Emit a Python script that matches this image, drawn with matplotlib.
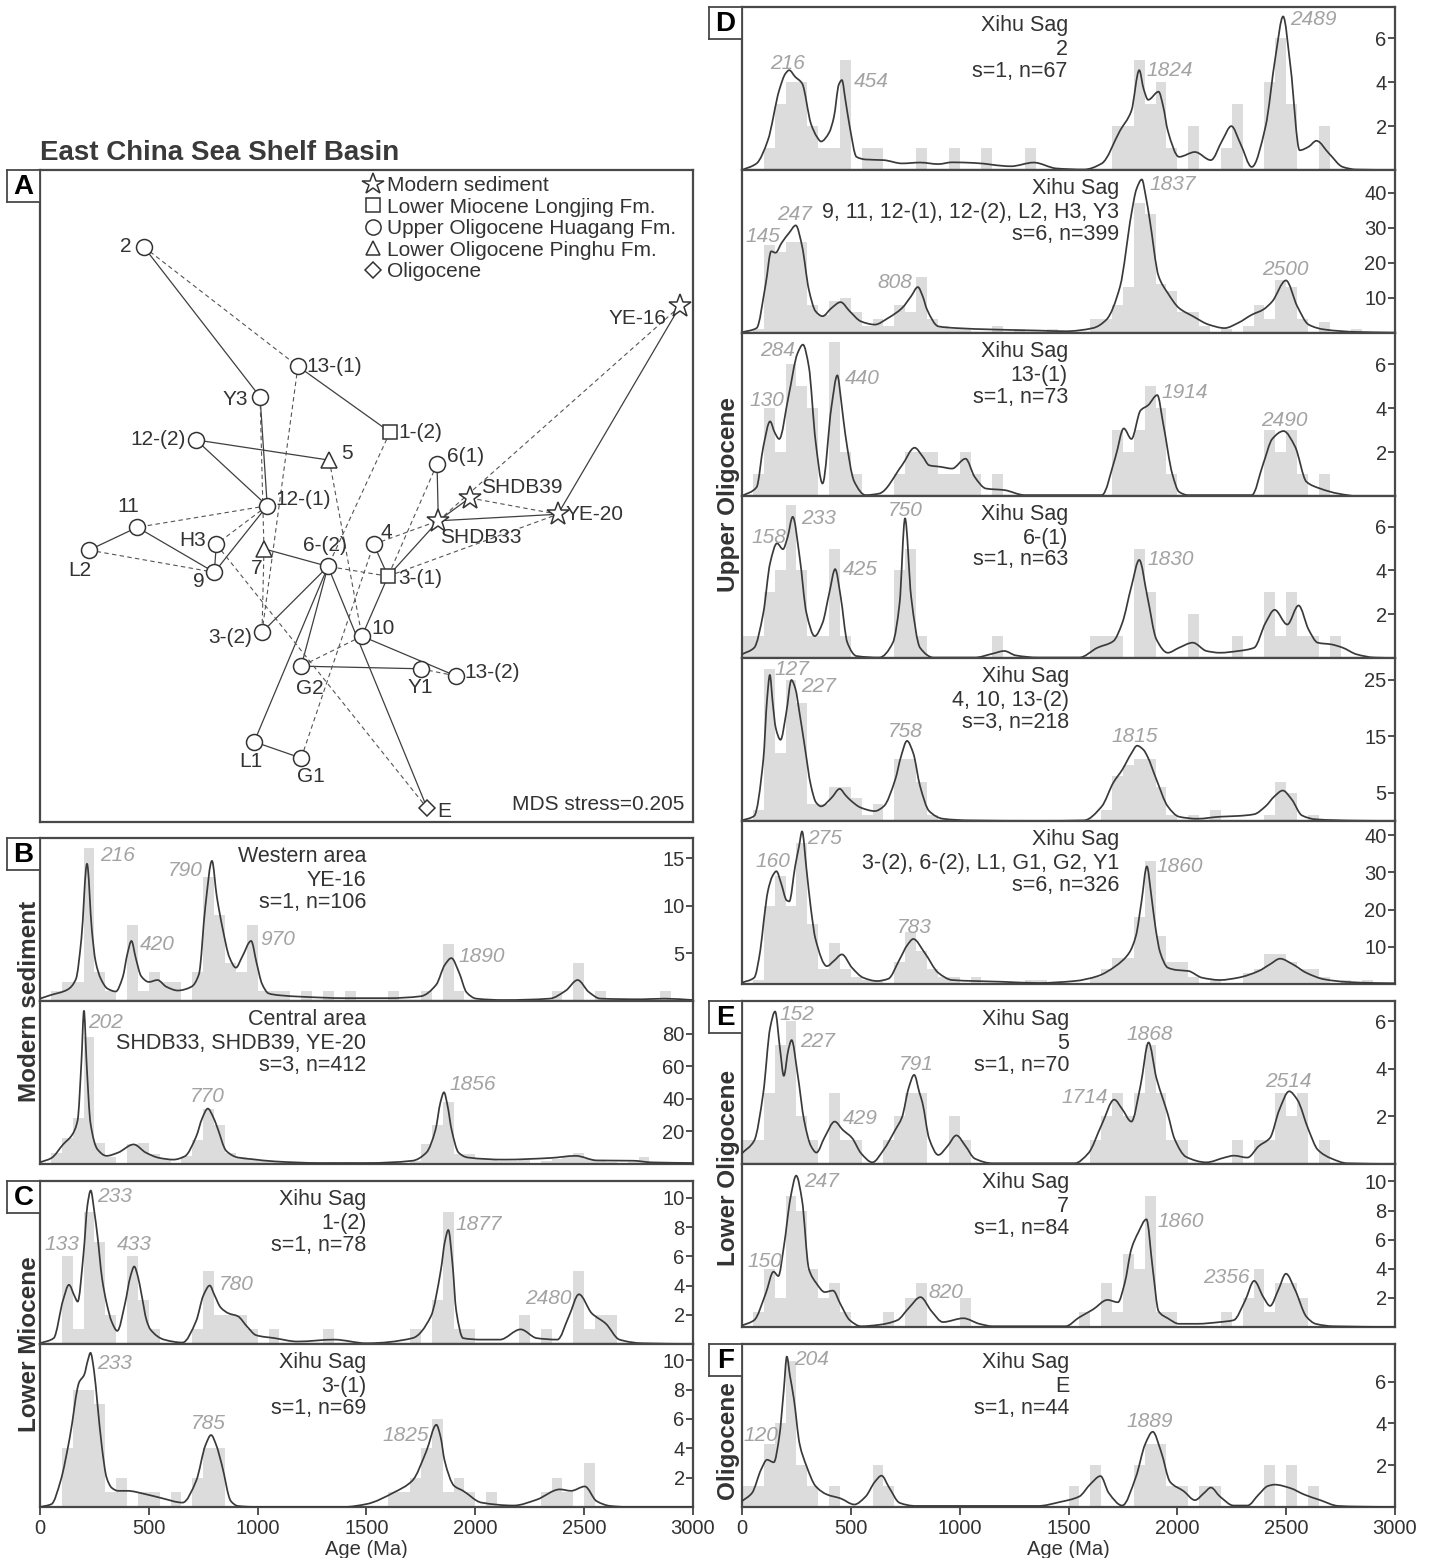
import numpy as np
import matplotlib
matplotlib.use('Agg')
import matplotlib.pyplot as plt
from matplotlib.path import Path
from matplotlib.patches import PathPatch
from matplotlib.lines import Line2D
from matplotlib.transforms import blended_transform_factory

plt.rcParams['font.family'] = ['Liberation Sans', 'DejaVu Sans']

# ---------------- Panel A : MDS map ----------------
mds_names = ["2", "13-(1)", "Y3", "1-(2)", "12-(2)", "5", "6(1)", "SHDB39", "12-(1)", "11",
             "SHDB33", "YE-20", "YE-16", "L2", "H3", "7", "4", "6-(2)", "9", "3-(1)",
             "3-(2)", "10", "G2", "Y1", "13-(2)", "L1", "G1", "E"]
mds_dim1 = [0.159, 0.395, 0.337, 0.536, 0.239, 0.443, 0.608, 0.658, 0.348, 0.149,
            0.610, 0.793, 0.980, 0.075, 0.270, 0.343, 0.511, 0.441, 0.267, 0.533,
            0.340, 0.493, 0.400, 0.583, 0.637, 0.328, 0.400, 0.593]
mds_dim2 = [0.882, 0.699, 0.652, 0.598, 0.586, 0.555, 0.549, 0.497, 0.485, 0.452,
            0.462, 0.472, 0.791, 0.417, 0.426, 0.419, 0.426, 0.392, 0.383, 0.377,
            0.291, 0.285, 0.239, 0.235, 0.224, 0.123, 0.098, 0.021]
mds_group = ["U", "U", "U", "M", "U", "L", "U", "S", "U", "U",
             "S", "S", "S", "U", "U", "L", "U", "U", "U", "M",
             "U", "U", "U", "U", "U", "U", "U", "O"]
solid_links = [("2", "Y3"), ("13-(1)", "1-(2)"), ("Y3", "12-(1)"), ("12-(2)", "5"),
               ("12-(2)", "12-(1)"), ("12-(1)", "9"), ("11", "L2"), ("11", "9"), ("H3", "9"),
               ("7", "6-(2)"), ("6-(2)", "3-(2)"), ("6-(2)", "G2"), ("6-(2)", "L1"),
               ("6-(2)", "E"), ("4", "3-(1)"), ("3-(1)", "SHDB33"), ("3-(1)", "10"),
               ("6(1)", "SHDB33"), ("SHDB33", "YE-20"), ("SHDB39", "SHDB33"),
               ("YE-16", "YE-20"), ("10", "13-(2)"), ("G2", "Y1"), ("L1", "G1")]
dashed_links = [("2", "13-(1)"), ("13-(1)", "3-(2)"), ("Y3", "7"), ("12-(1)", "11"),
                ("12-(1)", "H3"), ("L2", "9"), ("H3", "E"), ("5", "10"), ("1-(2)", "6-(2)"),
                ("4", "SHDB33"), ("3-(1)", "6-(2)"), ("3-(1)", "YE-20"), ("SHDB39", "YE-20"),
                ("YE-16", "SHDB33"), ("10", "G2"), ("Y1", "13-(2)"), ("G1", "4"),
                ("7", "3-(2)"), ("6(1)", "3-(1)")]
legend_labels = ["Modern sediment", "Lower Miocene Longjing Fm.", "Upper Oligocene Huagang Fm.",
                 "Lower Oligocene Pinghu Fm.", "Oligocene"]
mds_stress = 0.205

# ---------------- Panel B : modern sediment ----------------
b1_bins = [50, 100, 150, 200, 250, 300, 400, 450, 500, 550, 600, 700, 750, 800, 850, 900, 950,
           1000, 1050, 1100, 1200, 1300, 1400, 1600, 1750, 1850, 1900, 2350, 2450, 2550, 2850]
b1_counts = [1, 2, 2, 16, 3, 1, 8, 1, 3, 2, 2, 3, 13, 9, 4, 3, 8,
             1, 1, 1, 1, 1, 1, 1, 1, 6, 1, 1, 4, 1, 1]
b1_kde_age = [0, 46, 127, 165, 190, 216, 238, 255, 280, 310, 348, 380, 402, 420, 440, 465, 500,
              540, 580, 633, 696, 730, 760, 790, 812, 840, 870, 900, 928, 970, 995, 1020, 1050,
              1100, 1200, 1400, 1600, 1750, 1820, 1860, 1890, 1925, 1960, 2004, 2131, 2342,
              2416, 2470, 2521, 2574, 2764, 2869, 3000]
b1_kde_val = [0.25, 0.6, 1.2, 2.3, 6.5, 14.4, 7.5, 4.2, 2.3, 1.3, 1.0, 2.5, 5.0, 6.3, 4.5, 2.6, 2.0,
              2.2, 1.5, 1.1, 1.5, 2.8, 10.0, 14.7, 11.0, 7.5, 4.6, 3.5, 4.6, 6.3, 4.0, 1.8, 0.8,
              0.6, 0.45, 0.3, 0.3, 0.5, 1.7, 3.8, 4.5, 3.0, 0.9, 0.25, 0.1, 0.25,
              1.1, 2.2, 0.95, 0.25, 0.18, 0.25, 0.1]
b1_peaks = ["216", "420", "790", "970", "1890"]
b1_peak_x = [275, 460, 587, 1014, 1923]
b1_peak_y = [15.3, 5.9, 13.7, 6.5, 4.7]
b1_text = ["Western area", "YE-16", "s=1, n=106"]

b2_bins = [50, 100, 150, 200, 250, 300, 400, 450, 500, 550, 650, 700, 750, 800, 850, 900, 950,
           1000, 1050, 1100, 1200, 1300, 1400, 1500, 1700, 1750, 1800, 1850, 1900, 1950, 2000,
           2050, 2100, 2150, 2200, 2300, 2350, 2400, 2450, 2500, 2550, 2600, 2700, 2750]
b2_counts = [7, 16, 28, 78, 13, 4, 12, 13, 6, 3, 5, 15, 34, 24, 7, 4, 3,
             2, 2, 1, 1, 1, 1, 1, 2, 12, 24, 38, 6, 6, 3,
             3, 2, 2, 3, 2, 3, 4, 7, 3, 2, 1, 1, 4]
b2_kde_age = [0, 53, 106, 148, 173, 190, 202, 214, 232, 264, 306, 359, 430, 486, 549, 613, 665,
              718, 745, 771, 795, 813, 856, 909, 972, 1078, 1289, 1500, 1711, 1775, 1817, 1840,
              1856, 1872, 1891, 1923, 1965, 2134, 2345, 2461, 2557, 2725, 2810, 3000]
b2_kde_val = [1, 3.7, 12, 18, 27, 62, 94, 62, 25, 9, 5, 7, 12, 7, 3.7, 2.7, 4.7,
              17, 28, 34, 29, 23, 8, 4, 3, 1.6, 0.6, 0.6, 2, 7, 21, 38,
              44, 36, 21, 7, 4, 2.7, 3.7, 5, 2.2, 2, 1, 0.6]
b2_peaks = ["202", "770", "1856"]
b2_peak_x = [222, 687, 1880]
b2_peak_y = [87, 41.5, 49]
b2_text = ["Central area", "SHDB33, SHDB39, YE-20", "s=3, n=412"]

# ---------------- Panel C : Lower Miocene ----------------
c1_bins = [100, 150, 200, 250, 300, 400, 450, 500, 700, 750, 800, 850, 900, 950, 1050, 1300,
           1700, 1800, 1850, 1900, 1950, 2200, 2300, 2450, 2500, 2550, 2600]
c1_counts = [6, 1, 9, 7, 2, 6, 3, 1, 1, 5, 2, 2, 2, 1, 1, 1,
             1, 3, 9, 1, 1, 2, 1, 5, 1, 2, 2]
c1_kde_age = [0, 63, 106, 133, 158, 173, 200, 218, 233, 250, 264, 285, 306, 330, 355, 391, 415,
              433, 450, 465, 490, 507, 570, 655, 718, 750, 780, 800, 830, 866, 909, 951, 993,
              1078, 1183, 1352, 1500, 1711, 1796, 1842, 1860, 1876, 1895, 1912, 1944, 2028,
              2113, 2208, 2282, 2377, 2430, 2476, 2535, 2599, 2662, 2768, 3000]
c1_kde_val = [0.05, 0.4, 3.0, 4.05, 3.3, 2.9, 6.2, 9.5, 10.5, 9.0, 7.4, 4.5, 2.8, 1.5, 0.9, 2.8, 4.6,
              5.3, 4.6, 3.5, 1.6, 1.0, 0.3, 0.1, 1.6, 3.3, 4.0, 3.4, 2.5, 2.1, 1.9, 1.2, 0.6,
              0.4, 0.17, 0.3, 0.05, 0.4, 1.9, 5.1, 7.0, 7.8, 5.5, 2.3, 0.4, 0.3,
              0.3, 1.0, 0.4, 0.3, 1.9, 3.4, 2.1, 1.4, 0.3, 0.05, 0.0]
c1_peaks = ["233", "133", "433", "780", "1877", "2480"]
c1_peak_x = [264, 21, 355, 820, 1908, 2229]
c1_peak_y = [10.1, 6.8, 6.8, 4.06, 8.2, 3.1]
c1_text = ["Xihu Sag", "1-(2)", "s=1, n=78"]

c2_bins = [100, 150, 200, 250, 300, 350, 450, 500, 600, 700, 750, 800, 1600, 1650, 1700, 1750,
           1800, 1850, 1900, 1950, 2050, 2300, 2350, 2400, 2500]
c2_counts = [4, 8, 8, 7, 1, 2, 1, 1, 1, 2, 4, 4, 1, 1, 2, 4,
             6, 1, 2, 1, 1, 1, 2, 1, 3]
c2_kde_age = [0, 53, 95, 137, 180, 203, 220, 232, 248, 264, 285, 306, 330, 359, 401, 486, 560,
              655, 718, 760, 786, 810, 835, 877, 909, 1000, 1394, 1500, 1627, 1711, 1775, 1821,
              1840, 1859, 1902, 1944, 2028, 2176, 2282, 2388, 2440, 2503, 2557, 2620, 2700, 3000]
c2_kde_val = [0.0, 0.2, 1.8, 4.75, 8.5, 9.0, 10.0, 10.5, 9.3, 7.0, 4.0, 2.0, 1.3, 1.1, 1.1, 0.87, 0.6,
              0.3, 1.8, 4.2, 4.9, 4.2, 2.9, 0.4, 0.07, 0.0, 0.0, 0.2, 1.0, 1.8, 3.8, 5.6,
              4.8, 3.15, 1.45, 1.1, 0.3, 0.1, 0.5, 1.2, 1.1, 1.4, 0.4, 0.07, 0.0, 0.0]
c2_peaks = ["233", "785", "1825"]
c2_peak_x = [264, 693, 1574]
c2_peak_y = [9.8, 5.7, 4.9]
c2_text = ["Xihu Sag", "3-(1)", "s=1, n=69"]

# ---------------- Panel D : Upper Oligocene ----------------
d1_bins = [100, 150, 200, 250, 300, 350, 400, 450, 550, 600, 800, 950, 1100, 1300, 1700, 1750,
           1800, 1850, 1900, 1950, 2050, 2200, 2250, 2400, 2450, 2500, 2650]
d1_counts = [1, 3, 4, 4, 2, 1, 1, 5, 1, 1, 1, 1, 1, 1, 2, 2,
             5, 3, 4, 1, 2, 1, 3, 4, 6, 3, 2]
d1_kde_age = [0, 67, 119, 171, 200, 217, 244, 276, 317, 345, 363, 400, 422, 445, 459, 475, 495,
              526, 568, 651, 735, 818, 902, 965, 1069, 1236, 1340, 1445, 1570, 1653, 1737, 1789,
              1825, 1845, 1866, 1914, 1935, 1956, 2008, 2081, 2154, 2207, 2248, 2290, 2342,
              2405, 2451, 2486, 2520, 2562, 2603, 2639, 2697, 2760, 2823, 3000]
d1_kde_val = [0.0, 0.3, 1.36, 3.64, 4.4, 4.55, 4.25, 3.95, 2.1, 1.5, 1.3, 1.7, 2.4, 3.9, 4.1, 3.2, 1.97,
              0.6, 0.48, 0.45, 0.3, 0.34, 0.27, 0.35, 0.32, 0.17, 0.34, 0.07, 0.02, 0.3, 1.8, 2.7,
              4.55, 3.7, 3.2, 3.57, 2.9, 1.8, 0.6, 0.82, 0.45, 1.36, 2.0, 1.2, 0.14,
              1.97, 5.17, 7.0, 4.7, 0.9, 1.06, 1.33, 0.75, 0.14, 0.02, 0.0]
d1_peaks = ["216", "454", "1824", "2489"]
d1_peak_x = [129, 516, 1858, 2516]
d1_peak_y = [4.86, 4.05, 4.55, 6.84]
d1_text = ["Xihu Sag", "2", "s=1, n=67"]

d2_bins = [50, 100, 150, 200, 250, 300, 350, 400, 450, 500, 550, 600, 650, 700, 750, 800, 850,
           900, 950, 1000, 1150, 1250, 1400, 1600, 1650, 1700, 1750, 1800, 1850, 1900, 1950,
           2000, 2050, 2100, 2200, 2300, 2350, 2400, 2450, 2500, 2550, 2650, 2800]
d2_counts = [1, 25, 23, 26, 26, 8, 5, 9, 10, 6, 2, 4, 2, 8, 6, 16, 4,
             2, 1, 1, 2, 1, 1, 4, 4, 8, 13, 37, 34, 14, 12,
             6, 6, 2, 1, 2, 8, 4, 15, 13, 4, 3, 1]
d2_kde_age = [0, 67, 109, 134, 154, 182, 217, 247, 276, 307, 338, 370, 411, 453, 495, 547, 610,
              672, 735, 777, 808, 830, 850, 902, 985, 1152, 1361, 1486, 1612, 1674, 1737, 1789,
              1812, 1837, 1855, 1873, 1914, 1956, 2008, 2071, 2144, 2217, 2280, 2342, 2395, 2436,
              2499, 2551, 2603, 2676, 2823, 3000]
d2_kde_val = [0.2, 1.4, 14, 23.3, 22.9, 25.7, 28.6, 30.7, 24.8, 12.4, 6.2, 4.8, 7.1, 8.8, 6.2, 3.3, 2.4,
              4.3, 7.1, 10.5, 13.1, 10.5, 6.7, 1.9, 1.4, 1.0, 0.7, 0.5, 1.4, 3.8, 13.3, 34,
              41, 43.8, 39, 32.4, 16.2, 11.4, 7.1, 4.8, 2.4, 1.4, 2.9, 5.2, 6.7, 9.0,
              15, 7.6, 2.4, 1.0, 0.3, 0.1]
d2_peaks = ["145", "247", "808", "1837", "2500"]
d2_peak_x = [15, 161, 620, 1873, 2388]
d2_peak_y = [27.6, 33.8, 14.3, 42.4, 18.1]
d2_text = ["Xihu Sag", "9, 11, 12-(1), 12-(2), L2, H3, Y3", "s=6, n=399"]

d3_bins = [50, 100, 150, 200, 250, 300, 400, 450, 500, 700, 750, 800, 850, 900, 950, 1000, 1050,
           1150, 1700, 1750, 1800, 1850, 1900, 1950, 2400, 2450, 2500, 2550, 2650]
d3_counts = [1, 4, 2, 6, 5, 4, 7, 2, 1, 1, 2, 2, 2, 1, 1, 2, 1,
             1, 3, 2, 3, 5, 4, 1, 3, 2, 3, 1, 1]
d3_kde_age = [0, 67, 98, 129, 150, 171, 213, 255, 280, 307, 338, 370, 411, 438, 456, 474, 516,
              568, 630, 735, 793, 830, 860, 912, 965, 1027, 1069, 1121, 1205, 1299, 1653, 1716,
              1754, 1789, 1831, 1866, 1908, 1935, 1977, 2008, 2050, 2342, 2395, 2436, 2488,
              2541, 2593, 2656, 2739, 2823, 3000]
d3_kde_val = [0.0, 0.4, 2.25, 3.4, 2.9, 2.6, 4.5, 6.5, 6.9, 5.9, 2.5, 0.57, 4.07, 5.5, 4.3, 2.85, 0.65,
              0.04, 0.11, 1.4, 2.2, 1.8, 1.4, 1.33, 1.25, 1.7, 0.87, 0.34, 0.27, 0.04, 0.04, 1.79,
              3.08, 2.6, 3.9, 4.14, 4.6, 3.3, 1.0, 0.19, 0.04, 0.04, 1.48, 2.6, 2.96,
              2.25, 0.65, 0.34, 0.11, 0.0, 0.0]
d3_peaks = ["130", "284", "440", "1914", "2490"]
d3_peak_x = [35, 84, 474, 1929, 2384]
d3_peak_y = [4.37, 6.65, 5.36, 4.7, 3.46]
d3_text = ["Xihu Sag", "13-(1)", "s=1, n=73"]

d4_bins = [0, 50, 100, 150, 200, 250, 300, 350, 400, 450, 700, 750, 800, 1150, 1600, 1650, 1700,
           1800, 1850, 2050, 2250, 2400, 2450, 2500, 2550, 2600, 2700]
d4_counts = [1, 1, 3, 4, 7, 4, 1, 1, 5, 1, 4, 5, 1, 1, 1, 1, 1,
             5, 3, 2, 1, 3, 1, 3, 1, 1, 1]
d4_kde_age = [0, 56, 98, 129, 161, 188, 209, 233, 265, 296, 334, 370, 401, 428, 453, 484, 526,
              630, 693, 724, 749, 777, 818, 881, 1069, 1152, 1205, 1257, 1361, 1549, 1633, 1706,
              1747, 1789, 1825, 1862, 1904, 1956, 2008, 2071, 2134, 2196, 2280, 2353, 2405,
              2447, 2505, 2557, 2603, 2645, 2708, 2760, 2823, 2906, 3000]
d4_kde_val = [0.17, 0.47, 2.06, 4.33, 5.24, 4.97, 5.5, 6.45, 4.6, 2.06, 1.0, 1.6, 2.97, 4.06, 2.82, 0.7,
              0.09, 0.02, 0.7, 2.5, 6.38, 2.8, 0.47, 0.02, 0.02, 0.2, 0.32, 0.12, 0.02, 0.02, 0.47,
              0.77, 1.6, 3.27, 4.48, 2.82, 0.85, 0.24, 0.47, 0.7, 0.32, 0.24, 0.32, 0.47, 1.6,
              2.2, 1.53, 2.4, 1.3, 0.7, 0.62, 0.47, 0.17, 0.02, 0.0]
d4_peaks = ["158", "233", "425", "750", "1830"]
d4_peak_x = [42, 271, 463, 672, 1862]
d4_peak_y = [5.5, 6.38, 4.03, 6.76, 4.5]
d4_text = ["Xihu Sag", "6-(1)", "s=1, n=63"]

d5_bins = [50, 100, 150, 200, 250, 300, 350, 400, 450, 500, 550, 600, 700, 750, 800, 850, 1650,
           1700, 1750, 1800, 1850, 1900, 1950, 2050, 2150, 2400, 2450, 2500, 2600]
d5_counts = [2, 27, 12, 25, 21, 3, 3, 6, 6, 4, 1, 3, 11, 11, 7, 1, 2,
             8, 10, 11, 11, 6, 1, 1, 2, 1, 7, 5, 1]
d5_kde_age = [0, 56, 98, 115, 128, 141, 155, 177, 203, 227, 245, 265, 286, 317, 340, 363, 411,
              449, 475, 495, 547, 610, 651, 704, 731, 758, 787, 818, 860, 923, 1048, 1361, 1570,
              1653, 1706, 1747, 1789, 1815, 1845, 1862, 1904, 1956, 2008, 2092, 2196, 2280,
              2353, 2405, 2447, 2484, 2526, 2572, 2635, 2823, 3000]
d5_kde_val = [0.1, 0.9, 10.9, 21.5, 25.9, 21.0, 16.5, 14.4, 19.1, 25.0, 23.5, 19.0, 13.8, 6.2, 3.3, 2.6,
              4.1, 5.7, 4.6, 3.8, 2.35, 1.76, 2.6, 7.35, 11.5, 14.2, 12.0, 6.2, 1.76, 0.4, 0.1,
              0.02, 0.1, 2.6, 6.8, 9.1, 12.0, 13.35, 12.6, 11.5, 7.35, 2.6, 0.76, 0.4, 0.76,
              0.9, 1.2, 2.6, 4.4, 5.4, 3.8, 1.0, 0.3, 0.06, 0.0]
d5_peaks = ["127", "227", "758", "1815"]
d5_peak_x = [150, 271, 672, 1699]
d5_peak_y = [26.8, 23.8, 15.9, 14.9]
d5_text = ["Xihu Sag", "4, 10, 13-(2)", "s=3, n=218"]

d6_bins = [50, 100, 150, 200, 250, 300, 350, 400, 450, 500, 550, 600, 700, 750, 800, 850, 900,
           950, 1050, 1300, 1350, 1600, 1650, 1700, 1750, 1800, 1850, 1900, 1950, 2000, 2050,
           2150, 2300, 2350, 2400, 2450, 2500, 2550, 2600, 2650, 2750, 2850]
d6_counts = [1, 21, 29, 21, 38, 16, 4, 11, 4, 2, 1, 1, 6, 14, 9, 4, 2,
             2, 2, 1, 1, 2, 4, 7, 7, 18, 33, 13, 6, 6, 2,
             1, 3, 4, 8, 8, 6, 4, 4, 2, 1, 1]
d6_kde_age = [0, 56, 84, 100, 119, 140, 158, 180, 205, 217, 244, 262, 276, 296, 317, 338, 390,
              422, 459, 505, 557, 620, 672, 724, 760, 787, 839, 902, 965, 1069, 1194, 1361, 1528,
              1633, 1716, 1779, 1810, 1835, 1860, 1880, 1900, 1921, 1956, 1998, 2050, 2113,
              2196, 2280, 2374, 2426, 2472, 2530, 2593, 2676, 2781, 2906, 3000]
d6_kde_val = [0.36, 1.7, 9.0, 17.0, 25.0, 29.0, 30.3, 27.0, 22.5, 22.2, 31.6, 37.0, 41.0, 31.0, 20.0,
              12.0, 4.8, 6.2, 7.95, 4.4, 1.7, 0.8, 1.4, 6.6, 10.5, 12.1, 8.4, 3.0, 1.07, 0.8, 0.6,
              0.27, 0.8, 2.1, 4.8, 8.4, 13.0, 22.0, 31.6, 24.0, 15.0, 8.5, 4.4, 3.75, 3.5, 1.7,
              1.07, 1.7, 3.5, 5.3, 6.8, 5.3, 3.0, 1.25, 0.54, 0.27, 0.2]
d6_peaks = ["160", "275", "783", "1860"]
d6_peak_x = [63, 301, 710, 1904]
d6_peak_y = [33, 39.2, 15.1, 31.6]
d6_text = ["Xihu Sag", "3-(2), 6-(2), L1, G1, G2, Y1", "s=6, n=326"]

# ---------------- Panel E : Lower Oligocene ----------------
e1_bins = [0, 50, 100, 150, 200, 250, 300, 400, 450, 500, 650, 700, 750, 800, 950, 1000, 1600,
           1650, 1700, 1750, 1800, 1850, 1900, 1950, 2000, 2250, 2350, 2400, 2450, 2500, 2550,
           2650]
e1_counts = [1, 1, 3, 5, 6, 2, 1, 3, 1, 1, 1, 2, 3, 3, 2, 1, 1,
             2, 3, 2, 3, 5, 3, 1, 1, 1, 1, 1, 3, 2, 3,
             1]
e1_kde_age = [0, 56, 98, 129, 152, 175, 192, 213, 228, 255, 286, 317, 342, 380, 426, 463, 505,
              547, 599, 651, 704, 735, 766, 791, 815, 829, 860, 902, 944, 985, 1027, 1069, 1152,
              1528, 1591, 1653, 1710, 1747, 1789, 1831, 1868, 1904, 1935, 1956, 1987, 2040,
              2134, 2217, 2259, 2322, 2374, 2426, 2468, 2514, 2551, 2603, 2645, 2708, 2781, 3000]
e1_kde_val = [0.45, 0.98, 3.0, 5.7, 6.4, 4.8, 3.7, 4.8, 5.2, 3.8, 1.8, 0.75, 0.48, 1.13, 1.78, 1.43, 1.1,
              0.45, 0.07, 0.6, 1.43, 1.96, 3.2, 3.74, 3.0, 2.57, 1.06, 0.38, 0.75, 1.2, 0.75, 0.23,
              0.03, 0.03, 0.45, 1.66, 2.7, 2.3, 1.78, 3.3, 5.1, 3.6, 2.7, 2.1, 1.06, 0.3,
              0.07, 0.27, 0.35, 0.27, 0.75, 1.1, 2.26, 3.05, 2.7, 1.43, 0.6, 0.23, 0.03, 0.0]
e1_peaks = ["152", "227", "429", "791", "1714", "1868", "2514"]
e1_peak_x = [171, 265, 463, 720, 1466, 1764, 2405]
e1_peak_y = [6.26, 5.13, 1.89, 4.18, 2.79, 5.43, 3.47]
e1_text = ["Xihu Sag", "5", "s=1, n=70"]

e2_bins = [50, 100, 150, 200, 250, 300, 350, 400, 450, 650, 750, 800, 1000, 1550, 1650, 1700,
           1750, 1800, 1850, 1900, 1950, 2200, 2300, 2350, 2400, 2450, 2500, 2550]
e2_counts = [1, 4, 2, 9, 8, 4, 2, 3, 1, 1, 2, 3, 2, 1, 3, 1,
             5, 4, 9, 1, 1, 1, 2, 4, 1, 3, 3, 2]
e2_kde_age = [0, 56, 109, 145, 167, 192, 223, 249, 276, 307, 342, 380, 418, 453, 495, 547, 630,
              714, 766, 820, 871, 923, 1017, 1090, 1152, 1486, 1549, 1612, 1679, 1727, 1758,
              1789, 1820, 1858, 1887, 1914, 1956, 2008, 2092, 2196, 2259, 2311, 2353, 2395,
              2426, 2464, 2499, 2541, 2593, 2635, 2718, 3000]
e2_kde_val = [0.1, 0.47, 2.3, 3.8, 3.5, 5.5, 8.9, 10.4, 8.7, 4.0, 3.0, 2.4, 2.5, 1.55, 0.47, 0.05, 0.15,
              0.47, 1.3, 2.05, 1.08, 0.34, 0.6, 0.22, 0.05, 0.05, 0.66, 1.2, 1.86, 1.7, 3.0,
              5.37, 6.48, 7.4, 4.0, 1.08, 0.6, 0.22, 0.22, 0.34, 0.47, 1.8, 3.17, 2.06,
              1.45, 2.55, 3.66, 2.55, 0.71, 0.22, 0.05, 0.0]
e2_peaks = ["150", "247", "820", "1860", "2356"]
e2_peak_x = [25, 286, 856, 1908, 2117]
e2_peak_y = [4.5, 10.0, 2.36, 7.26, 3.4]
e2_text = ["Xihu Sag", "7", "s=1, n=84"]

# ---------------- Panel F : Oligocene ----------------
f_bins = [0, 50, 100, 150, 200, 250, 300, 400, 600, 650, 1500, 1600, 1800, 1850, 1900, 1950,
          2000, 2100, 2150, 2400, 2500, 2600]
f_counts = [1, 1, 3, 4, 7, 2, 1, 1, 2, 1, 1, 2, 2, 3, 3, 1,
            1, 1, 1, 2, 2, 1]
f_kde_age = [0, 46, 88, 115, 146, 171, 192, 206, 220, 238, 265, 296, 338, 390, 453, 516, 568,
             610, 641, 676, 724, 797, 1361, 1461, 1549, 1601, 1647, 1685, 1747, 1810, 1852,
             1887, 1925, 1967, 2029, 2081, 2123, 2154, 2196, 2259, 2322, 2374, 2415, 2447,
             2520, 2582, 2656, 2739, 2823, 3000]
f_kde_val = [0.28, 0.67, 1.8, 2.26, 2.14, 3.34, 5.6, 7.2, 6.3, 5.2, 3.0, 1.97, 1.0, 0.6, 0.41, 0.12,
             0.5, 1.2, 1.5, 0.93, 0.2, 0.05, 0.05, 0.24, 0.5, 1.1, 1.48, 0.67, 0.07, 1.45, 3.0,
             3.6, 2.66, 1.2, 0.76, 0.33, 0.67, 0.93, 0.5, 0.07, 0.07, 0.6, 1.0, 1.07,
             0.9, 0.6, 0.33, 0.05, 0.02, 0.0]
f_peaks = ["120", "204", "1889"]
f_peak_x = [8, 238, 1764]
f_peak_y = [3.43, 7.05, 4.07]
f_text = ["Xihu Sag", "E", "s=1, n=44"]

x_ticks = [0, 500, 1000, 1500, 2000, 2500, 3000]

# ---------------- styling ----------------
W, H = 1433, 1558
TXT = '#333333'
SPINE = '#484848'
BAR = '#dcdcdc'
CURVE = '#3a3a3a'
PEAKC = '#a3a3a3'


def rect(x0, y0, x1, y1):
    return [x0 / W, 1 - y1 / H, (x1 - x0) / W, (y1 - y0) / H]


def pchip_path(xs, ys):
    x = np.asarray(xs, float)
    y = np.asarray(ys, float)
    h = np.diff(x)
    d = np.diff(y) / h
    n = len(x)
    m = np.zeros(n)
    m[0] = d[0]
    m[-1] = d[-1]
    for k in range(1, n - 1):
        if d[k - 1] * d[k] <= 0:
            m[k] = 0.0
        else:
            w1 = 2 * h[k] + h[k - 1]
            w2 = h[k] + 2 * h[k - 1]
            m[k] = (w1 + w2) / (w1 / d[k - 1] + w2 / d[k])
    verts = [(x[0], y[0])]
    codes = [Path.MOVETO]
    for k in range(n - 1):
        verts += [(x[k] + h[k] / 3, y[k] + m[k] * h[k] / 3),
                  (x[k + 1] - h[k] / 3, y[k + 1] - m[k + 1] * h[k] / 3),
                  (x[k + 1], y[k + 1])]
        codes += [Path.CURVE4] * 3
    return Path(verts, codes)


def style_spines(ax):
    for s in ax.spines.values():
        s.set_color(SPINE)
        s.set_linewidth(1.6)


fig = plt.figure(figsize=(W / 100, H / 100), dpi=100)
fig.patch.set_facecolor('white')


def letter_box(label, x0, y0):
    lx = fig.add_axes(rect(x0, y0, x0 + 33, y0 + 32))
    lx.set_xticks([])
    lx.set_yticks([])
    style_spines(lx)
    for s in lx.spines.values():
        s.set_linewidth(1.3)
    lx.text(0.5, 0.47, label, ha='center', va='center', fontsize=20, fontweight='bold',
            color='black', transform=lx.transAxes)


def draw_panel(box, bins, counts, kde_age, kde_val, ymax, yticks, peaks, px, py,
               lines, text_right, xlabels=False):
    ax = fig.add_axes(rect(*box))
    ax.bar(bins, counts, width=50, align='edge', color=BAR, linewidth=0, zorder=1)
    ax.add_patch(PathPatch(pchip_path(kde_age, kde_val), fill=False, ec=CURVE, lw=1.25,
                           zorder=3, capstyle='round', joinstyle='round'))
    ax.set_xlim(0, 3000)
    ax.set_ylim(0, ymax)
    ax.set_yticks(yticks)
    ax.set_yticklabels([str(t) for t in yticks])
    ax.tick_params(axis='y', which='both', direction='in', length=5, width=1.2, pad=-6,
                   labelsize=14.5, colors=TXT, left=False, labelleft=False,
                   right=True, labelright=True)
    for lb in ax.get_yticklabels():
        lb.set_horizontalalignment('right')
    if xlabels:
        ax.set_xticks(x_ticks)
        ax.tick_params(axis='x', direction='out', length=6, width=1.2, labelsize=14.5,
                       colors=TXT, pad=3)
        ax.set_xlabel('Age (Ma)', fontsize=14.5, color=TXT, labelpad=1)
    else:
        ax.set_xticks([])
    style_spines(ax)
    for s, x, y in zip(peaks, px, py):
        ax.text(x, y, s, ha='left', va='center', fontsize=15, style='italic', color=PEAKC,
                zorder=4)
    tr = blended_transform_factory(ax.transData, ax.transAxes)
    for line, fy in zip(lines, [0.885, 0.74, 0.605]):
        ax.text(text_right, fy, line, transform=tr, ha='right', va='center', fontsize=15.5,
                color=TXT, zorder=5)
    return ax


# ---------------- Panel A ----------------
axA = fig.add_axes(rect(40, 170, 693, 822))
axA.set_xlim(0, 1)
axA.set_ylim(0, 1)
axA.set_xticks([])
axA.set_yticks([])
style_spines(axA)
idx = {n: i for i, n in enumerate(mds_names)}
for a, b in solid_links:
    axA.plot([mds_dim1[idx[a]], mds_dim1[idx[b]]], [mds_dim2[idx[a]], mds_dim2[idx[b]]],
             color='#3f3f3f', lw=0.9, zorder=1)
for a, b in dashed_links:
    axA.plot([mds_dim1[idx[a]], mds_dim1[idx[b]]], [mds_dim2[idx[a]], mds_dim2[idx[b]]],
             color='#555555', lw=0.8, ls=(0, (4, 3)), zorder=1)
marker_style = {"S": ('*', 17), "M": ('s', 10.5), "U": ('o', 11.5), "L": ('^', 11), "O": ('D', 8.5)}
for i, n in enumerate(mds_names):
    mk, ms = marker_style[mds_group[i]]
    axA.plot(mds_dim1[i], mds_dim2[i], marker=mk, ms=ms, mfc='white', mec='#333333',
             mew=1.1, ls='none', zorder=3)
label_offsets = {
    "2": (-12, 0, 'right'), "13-(1)": (8, 0, 'left'), "Y3": (-12, 3, 'right'),
    "1-(2)": (8, 0, 'left'), "12-(2)": (-10, 0, 'right'), "5": (12, -7, 'left'),
    "6(1)": (10, -8, 'left'), "SHDB39": (11, -10, 'left'), "12-(1)": (8, -6, 'left'),
    "11": (-9, -21, 'center'), "SHDB33": (2, 17, 'left'), "YE-20": (8, 0, 'left'),
    "YE-16": (-13, 12, 'right'), "L2": (-9, 20, 'center'), "H3": (-10, -4, 'right'),
    "7": (-7, 20, 'center'), "4": (13, -12, 'center'), "6-(2)": (-3, -21, 'center'),
    "9": (-16, 9, 'center'), "3-(1)": (10, 2, 'left'), "3-(2)": (-10, 5, 'right'),
    "10": (9, -8, 'left'), "G2": (9, 22, 'center'), "Y1": (0, 19, 'center'),
    "13-(2)": (8, -3, 'left'), "L1": (-3, 20, 'center'), "G1": (10, 18, 'center'),
    "E": (10, 3, 'left')}
for i, n in enumerate(mds_names):
    dx, dy, ha = label_offsets[n]
    axA.annotate(n, (mds_dim1[i], mds_dim2[i]), xytext=(dx, -dy), textcoords='offset pixels',
                 ha=ha, va='center', fontsize=15, color=TXT, zorder=4)
handles = [Line2D([], [], marker=marker_style[g][0], ms=marker_style[g][1] * 0.95, mfc='white',
                  mec='#333333', mew=1.1, ls='none') for g in ["S", "M", "U", "L", "O"]]
leg = axA.legend(handles, legend_labels, loc='upper left', bbox_to_anchor=(0.486, 1.0),
                 frameon=False, fontsize=15, handlelength=0.9, handletextpad=0.2,
                 labelspacing=0.12, borderpad=0.3, borderaxespad=0.0)
for t in leg.get_texts():
    t.set_color(TXT)
axA.text(0.987, 0.012, 'MDS stress=%.3f' % mds_stress, transform=axA.transAxes, ha='right',
         va='bottom', fontsize=15, color=TXT)
fig.text(40 / W, 1 - 160 / H, 'East China Sea Shelf Basin', ha='left', va='baseline',
         fontsize=20, fontweight='bold', color='#3a3a3a')
letter_box('A', 7, 170)

# ---------------- KDE panels ----------------
draw_panel((40, 838, 693, 1001), b1_bins, b1_counts, b1_kde_age, b1_kde_val, 17.1, [5, 10, 15],
           b1_peaks, b1_peak_x, b1_peak_y, b1_text, 1500)
draw_panel((40, 1001, 693, 1164), b2_bins, b2_counts, b2_kde_age, b2_kde_val, 100, [20, 40, 60, 80],
           b2_peaks, b2_peak_x, b2_peak_y, b2_text, 1500)
draw_panel((40, 1181, 693, 1344), c1_bins, c1_counts, c1_kde_age, c1_kde_val, 11.15, [2, 4, 6, 8, 10],
           c1_peaks, c1_peak_x, c1_peak_y, c1_text, 1500)
draw_panel((40, 1344, 693, 1507), c2_bins, c2_counts, c2_kde_age, c2_kde_val, 11.1, [2, 4, 6, 8, 10],
           c2_peaks, c2_peak_x, c2_peak_y, c2_text, 1500, xlabels=True)

draw_panel((742, 7, 1395, 170), d1_bins, d1_counts, d1_kde_age, d1_kde_val, 7.43, [2, 4, 6],
           d1_peaks, d1_peak_x, d1_peak_y, d1_text, 1497)
draw_panel((742, 170, 1395, 333), d2_bins, d2_counts, d2_kde_age, d2_kde_val, 46.5, [10, 20, 30, 40],
           d2_peaks, d2_peak_x, d2_peak_y, d2_text, 1733)
draw_panel((742, 333, 1395, 496), d3_bins, d3_counts, d3_kde_age, d3_kde_val, 7.43, [2, 4, 6],
           d3_peaks, d3_peak_x, d3_peak_y, d3_text, 1497)
draw_panel((742, 496, 1395, 658), d4_bins, d4_counts, d4_kde_age, d4_kde_val, 7.4, [2, 4, 6],
           d4_peaks, d4_peak_x, d4_peak_y, d4_text, 1497)
draw_panel((742, 658, 1395, 821), d5_bins, d5_counts, d5_kde_age, d5_kde_val, 28.9, [5, 15, 25],
           d5_peaks, d5_peak_x, d5_peak_y, d5_text, 1503)
draw_panel((742, 821, 1395, 984), d6_bins, d6_counts, d6_kde_age, d6_kde_val, 43.8, [10, 20, 30, 40],
           d6_peaks, d6_peak_x, d6_peak_y, d6_text, 1733)

draw_panel((742, 1001, 1395, 1164), e1_bins, e1_counts, e1_kde_age, e1_kde_val, 6.84, [2, 4, 6],
           e1_peaks, e1_peak_x, e1_peak_y, e1_text, 1503)
draw_panel((742, 1164, 1395, 1327), e2_bins, e2_counts, e2_kde_age, e2_kde_val, 11.2, [2, 4, 6, 8, 10],
           e2_peaks, e2_peak_x, e2_peak_y, e2_text, 1503)
draw_panel((742, 1344, 1395, 1507), f_bins, f_counts, f_kde_age, f_kde_val, 7.8, [2, 4, 6],
           f_peaks, f_peak_x, f_peak_y, f_text, 1503, xlabels=True)

letter_box('B', 7, 838)
letter_box('C', 7, 1181)
letter_box('D', 709, 7)
letter_box('E', 709, 1001)
letter_box('F', 709, 1344)

for s, x, y in [("Modern sediment", 30, 1001), ("Lower Miocene", 30, 1344),
                ("Upper Oligocene", 728, 495), ("Lower Oligocene", 728, 1168),
                ("Oligocene", 728, 1440)]:
    fig.text(x / W, 1 - y / H, s, rotation=90, ha='center', va='center', fontsize=17.5,
             fontweight='bold', color='#333333')

fig.savefig('out.png', dpi=100, facecolor='white')
